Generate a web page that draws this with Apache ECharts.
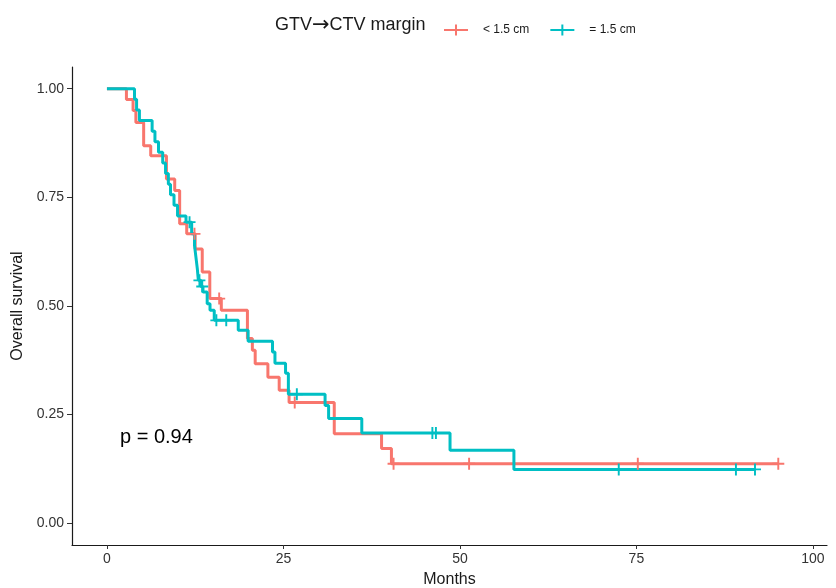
<!DOCTYPE html>
<html>
<head>
<meta charset="utf-8">
<script src="https://cdn.jsdelivr.net/npm/echarts@6/dist/echarts.min.js"></script>
<style>
html,body{margin:0;padding:0;background:#fff;}
#chart{width:836px;height:588px;}
</style>
</head>
<body>
<div id="chart"></div>
<script>
// ---- data ----
const redName = '< 1.5 cm';
const blueName = '= 1.5 cm';
const redTimes = [0, 2.76, 3.7, 4.1, 5.2, 6.2, 8.43, 9.6, 10.3, 11.3, 12.5, 13.5, 14.57, 16.2, 19.9, 20.6, 21.0, 22.8, 24.4, 25.8, 32.2, 38.9, 40.3, 95.1];
const redSurv  = [1, 0.975, 0.95, 0.922, 0.869, 0.846, 0.792, 0.766, 0.689, 0.666, 0.631, 0.578, 0.517, 0.49, 0.425, 0.398, 0.367, 0.336, 0.306, 0.278, 0.206, 0.172, 0.137, 0.137];
const redCensorTimes = [12.4, 15.9, 26.6, 40.6, 51.3, 75.2, 95.1];
const redCensorSurv  = [0.666, 0.517, 0.278, 0.137, 0.137, 0.137, 0.137];

const blueTimes = [0, 3.9, 4.2, 4.6, 6.4, 6.8, 7.3, 7.9, 8.3, 8.7, 9.0, 9.5, 10.0, 11.2, 12.0, 12.4, 12.6, 12.8, 12.95, 13.3, 13.6, 14.2, 14.6, 15.2, 18.6, 20.0, 23.45, 23.8, 25.3, 25.7, 30.9, 31.4, 36.1, 48.6, 57.65, 91.8];
const blueSurv  = [1, 0.976, 0.951, 0.927, 0.902, 0.878, 0.854, 0.829, 0.805, 0.780, 0.756, 0.732, 0.707, 0.693, 0.666, 0.640, 0.613, 0.586, 0.559, 0.545, 0.532, 0.505, 0.49, 0.467, 0.444, 0.419, 0.394, 0.368, 0.345, 0.297, 0.271, 0.241, 0.208, 0.168, 0.124, 0.124];
const blueCensorTimes = [11.7, 13.1, 13.5, 15.5, 16.9, 26.9, 46.1, 46.6, 72.5, 89.1, 91.8];
const blueCensorSurv  = [0.693, 0.559, 0.545, 0.467, 0.467, 0.297, 0.208, 0.208, 0.124, 0.124, 0.124];

const xTicks = [0, 25, 50, 75, 100];
const yTicks = [0, 0.25, 0.5, 0.75, 1];
const pText = 'p = 0.94';
const legendTitleParts = ['GTV', '\u2192', 'CTV margin'];

// ---- styling ----
const RED = '#F8766D';
const BLUE = '#00BFC4';
const FONT = '"Liberation Sans", Arial, sans-serif';
const plusPath = 'path://M-0.16,-1 L0.16,-1 L0.16,-0.16 L1,-0.16 L1,0.16 L0.16,0.16 L0.16,1 L-0.16,1 L-0.16,0.16 L-1,0.16 L-1,-0.16 L-0.16,-0.16 Z';
const legendPath = 'path://M0,8.2 L24,8.2 L24,11.8 L0,11.8 Z M11,0 L13,0 L13,20 L11,20 Z';

const zip = (a, b) => a.map((v, i) => [v, b[i]]);

const chart = echarts.init(document.getElementById('chart'), null, {renderer: 'canvas'});
chart.setOption({
  animation: false,
  backgroundColor: '#fff',
  textStyle: {fontFamily: FONT},
  grid: {left: 72, right: 9, top: 67, bottom: 43, containLabel: false, outerBoundsMode: 'none'},
  graphic: [
    {type: 'text', left: 275, top: 15, style: {
      text: '{a|' + legendTitleParts[0] + '}{b|' + legendTitleParts[1] + '}{a|' + legendTitleParts[2] + '}',
      rich: {
        a: {fontFamily: FONT, fontSize: 18, fill: '#1a1a1a', color: '#1a1a1a'},
        b: {fontFamily: '"DejaVu Sans", sans-serif', fontSize: 21, fill: '#1a1a1a', color: '#1a1a1a'}
      }
    }},
    {type: 'text', left: 120, top: 427, style: {text: pText, font: '20px ' + FONT, fill: '#000'}}
  ],
  legend: {
    left: 439, top: 19,
    itemWidth: 24, itemHeight: 11,
    itemGap: 21,
    symbolKeepAspect: false,
    data: [{name: redName, icon: legendPath}, {name: blueName, icon: legendPath}],
    textStyle: {fontSize: 12, color: '#1a1a1a', fontFamily: FONT, padding: [0, 0, 0, 10]}
  },
  xAxis: {
    type: 'value', min: -4.95, max: 102,
    name: 'Months', nameLocation: 'middle', nameGap: 27,
    nameTextStyle: {fontSize: 16, color: '#1a1a1a'},
    splitLine: {show: false},
    axisLine: {show: true, onZero: false, lineStyle: {color: '#1a1a1a', width: 1.2}},
    axisTick: {show: true, length: 4, customValues: xTicks, lineStyle: {color: '#333'}},
    axisLabel: {customValues: xTicks, fontSize: 14, color: '#333', margin: 7}
  },
  yAxis: {
    type: 'value', min: -0.05, max: 1.05,
    name: 'Overall survival', nameLocation: 'middle', nameGap: 44,
    nameTextStyle: {fontSize: 16, color: '#1a1a1a'},
    splitLine: {show: false},
    axisLine: {show: true, onZero: false, lineStyle: {color: '#1a1a1a', width: 1.2}},
    axisTick: {show: true, length: 5, customValues: yTicks, lineStyle: {color: '#333'}},
    axisLabel: {customValues: yTicks, fontSize: 14, color: '#333', margin: 8,
      formatter: v => v.toFixed(2)}
  },
  series: [
    {name: redName, type: 'line', step: 'end', showSymbol: false, symbol: 'none',
     data: zip(redTimes, redSurv), lineStyle: {color: RED, width: 3}, itemStyle: {color: RED}, z: 2},
    {name: blueName, type: 'line', step: 'end', showSymbol: false, symbol: 'none',
     data: zip(blueTimes, blueSurv), lineStyle: {color: BLUE, width: 3}, itemStyle: {color: BLUE}, z: 3},
    {name: 'redCensor', type: 'scatter', symbol: plusPath, symbolSize: 12,
     data: zip(redCensorTimes, redCensorSurv), itemStyle: {color: RED, opacity: 1}, z: 4},
    {name: 'blueCensor', type: 'scatter', symbol: plusPath, symbolSize: 12,
     data: zip(blueCensorTimes, blueCensorSurv), itemStyle: {color: BLUE, opacity: 1}, z: 5}
  ]
});
</script>
</body>
</html>
